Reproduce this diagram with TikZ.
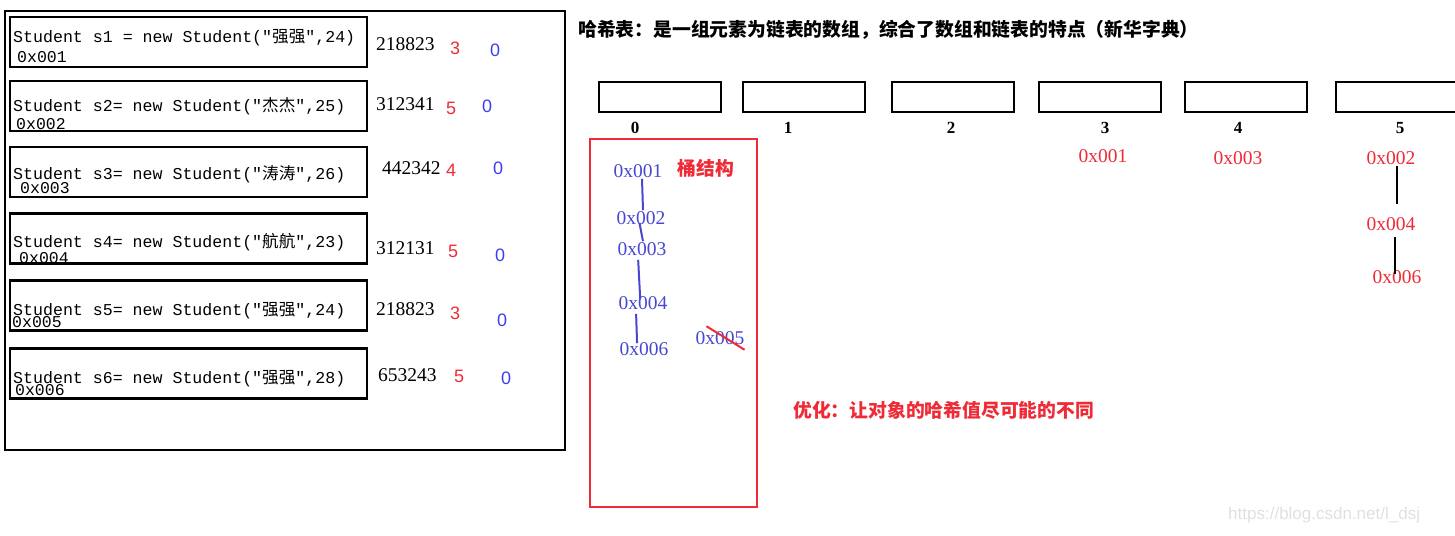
\documentclass[tikz,border=0pt]{standalone}
\usepackage{fontspec}
\setmainfont{Liberation Serif}
\setsansfont{Liberation Sans}
\setmonofont{Liberation Mono}
\newfontfamily\cjk{Noto Sans CJK SC}
\usetikzlibrary{positioning,calc}
\definecolor{hashred}{HTML}{EE2B36}
\definecolor{hashblue}{HTML}{4747D1}
\definecolor{digitblue}{HTML}{3D3DF0}
\newcommand\zh[1]{{\cjk #1}}

\begin{document}
\begin{tikzpicture}[x=1pt,y=-1pt,
    frame/.style={draw=black,line width=2pt},
    objbox/.style={draw=black,line width=2.4pt,minimum width=357pt,minimum height=50pt,inner sep=0pt},
    objtext/.style={anchor=west,inner sep=0pt,font=\fontsize{16.6}{18}\ttfamily},
    addr/.style={anchor=west,inner sep=0pt,font=\fontsize{16.5}{18}\ttfamily},
    hashval/.style={anchor=west,inner sep=0pt,font=\fontsize{19.5}{20}\rmfamily},
    bucketno/.style={inner sep=0pt,text=hashred,font=\fontsize{18}{20}\sffamily},
    zero/.style={inner sep=0pt,text=digitblue,font=\fontsize{18}{20}\sffamily},
    cell/.style={draw=black,line width=2.4pt,minimum width=122pt,minimum height=30pt,inner sep=0pt},
    index/.style={inner sep=0pt,font=\fontsize{17}{18}\rmfamily\bfseries},
    chain/.style={inner sep=1pt,text=hashblue,font=\fontsize{19.5}{20}\rmfamily},
    entry/.style={inner sep=1pt,text=hashred,font=\fontsize{19.5}{20}\rmfamily},
    link/.style={draw=hashblue,line width=2pt},
    note/.style={inner sep=0pt,font=\fontsize{18.8}{20}\cjk\bfseries}]
  \clip (0,0) rectangle (1455,535);

  % objects and their hash values
  \draw[frame] (5,11) rectangle (565,450);
  \node[objbox] (o1) at (188.5,42) {};
  \node[objbox] (o2) at (188.5,106) {};
  \node[objbox] (o3) at (188.5,172) {};
  \node[objbox] (o4) at (188.5,238.5) {};
  \node[objbox] (o5) at (188.5,305.5) {};
  \node[objbox] (o6) at (188.5,373.5) {};

  \node[objtext] (t1) at (13,38) {Student s1 = new Student(″\zh{强强}″,24)};
  \node[objtext] (t2) at (13,106) {Student s2= new Student(″\zh{杰杰}″,25)};
  \node[objtext] (t3) at (13,174) {Student s3= new Student(″\zh{涛涛}″,26)};
  \node[objtext] (t4) at (13,242) {Student s4= new Student(″\zh{航航}″,23)};
  \node[objtext] (t5) at (13,311) {Student s5= new Student(″\zh{强强}″,24)};
  \node[objtext] (t6) at (13,379) {Student s6= new Student(″\zh{强强}″,28)};

  \node[addr] (a1) at (17,57) {0x001};
  \node[addr] (a2) at (16,124) {0x002};
  \node[addr] (a3) at (20,188) {0x003};
  \node[addr] (a4) at (19,258) {0x004};
  \node[addr] (a5) at (12,322) {0x005};
  \node[addr] (a6) at (15,390) {0x006};

  \node[hashval] (h1) at (376,44) {218823};
  \node[hashval] (h2) at (376,104) {312341};
  \node[hashval] (h3) at (382,168) {442342};
  \node[hashval] (h4) at (376,248) {312131};
  \node[hashval] (h5) at (376,309) {218823};
  \node[hashval] (h6) at (378,375) {653243};

  \node[bucketno] (r1) at (455,48) {3};
  \node[bucketno] (r2) at (451,108) {5};
  \node[bucketno] (r3) at (451,170) {4};
  \node[bucketno] (r4) at (453,251) {5};
  \node[bucketno] (r5) at (455,313) {3};
  \node[bucketno] (r6) at (459,376) {5};

  \node[zero] (z1) at (495,50) {0};
  \node[zero] (z2) at (487,106) {0};
  \node[zero] (z3) at (498,168) {0};
  \node[zero] (z4) at (500,255) {0};
  \node[zero] (z5) at (502,320) {0};
  \node[zero] (z6) at (506,378) {0};

  % the array
  \node[note,anchor=west] (title) at (578,30) {哈希表：是一组元素为链表的数组，综合了数组和链表的特点（新华字典）};
  \foreach \i/\cx/\lx in {0/660/635,1/804/788,2/953/951,3/1100/1105,4/1246/1238,5/1397/1400}{
    \node[cell] (cell\i) at (\cx,97) {};
    \node[index] (idx\i) at (\lx,128) {\i};
  }

  % bucket 0
  \node[draw=hashred,line width=2pt,minimum width=167pt,minimum height=368pt,inner sep=0pt] (bucket) at (673.5,323) {};
  \node[note,text=hashred] (tong) at (706,168) {桶结构};
  \node[chain] (c1) at (638,171) {0x001};
  \node[chain] (c2) at (641,218) {0x002};
  \node[chain] (c3) at (642,249) {0x003};
  \node[chain] (c4) at (643,303) {0x004};
  \node[chain] (c6) at (644,349) {0x006};
  \node[chain] (c5) at (720,338) {0x005};
  \draw[link] ([xshift=4pt]c1.south) -- ([xshift=2pt]c2.north);
  \draw[link,shorten <=-3pt] ([xshift=-1pt]c2.south) -- ([xshift=1pt]c3.north);
  \draw[link,shorten <=3pt,shorten >=-4pt] ([xshift=-4pt]c3.south) -- ([xshift=-3pt]c4.north);
  \draw[link,shorten <=3pt,shorten >=-2pt] ([xshift=-7pt]c4.south) -- ([xshift=-7pt]c6.north);
  \draw[hashred,line width=2pt] ([xshift=12pt,yshift=4pt]c5.north west) -- ([xshift=-1pt,yshift=-4pt]c5.south east);

  % buckets 3, 4, 5
  \node[entry] (e1) at (1103,156) {0x001};
  \node[entry] (e3) at (1238,158) {0x003};
  \node[entry] (e2) at (1391,158) {0x002};
  \node[entry] (e4) at (1391,224) {0x004};
  \node[entry] (e6) at (1397,277) {0x006};
  \draw[line width=2pt,shorten >=12pt] ([xshift=6pt]e2.south) -- ([xshift=6pt]e4.north);
  \draw[line width=2pt,shorten <=5pt,shorten >=-5pt] ([xshift=4pt]e4.south) -- ([xshift=-2pt]e6.north);

  \node[note,anchor=west,text=hashred] (tip) at (793,410) {优化：让对象的哈希值尽可能的不同};
  \node[anchor=west,inner sep=0pt,text=black!12,font=\fontsize{17}{18}\sffamily] (mark) at (1228,515) {https://blog.csdn.net/l\_dsj};
\end{tikzpicture}
\end{document}
